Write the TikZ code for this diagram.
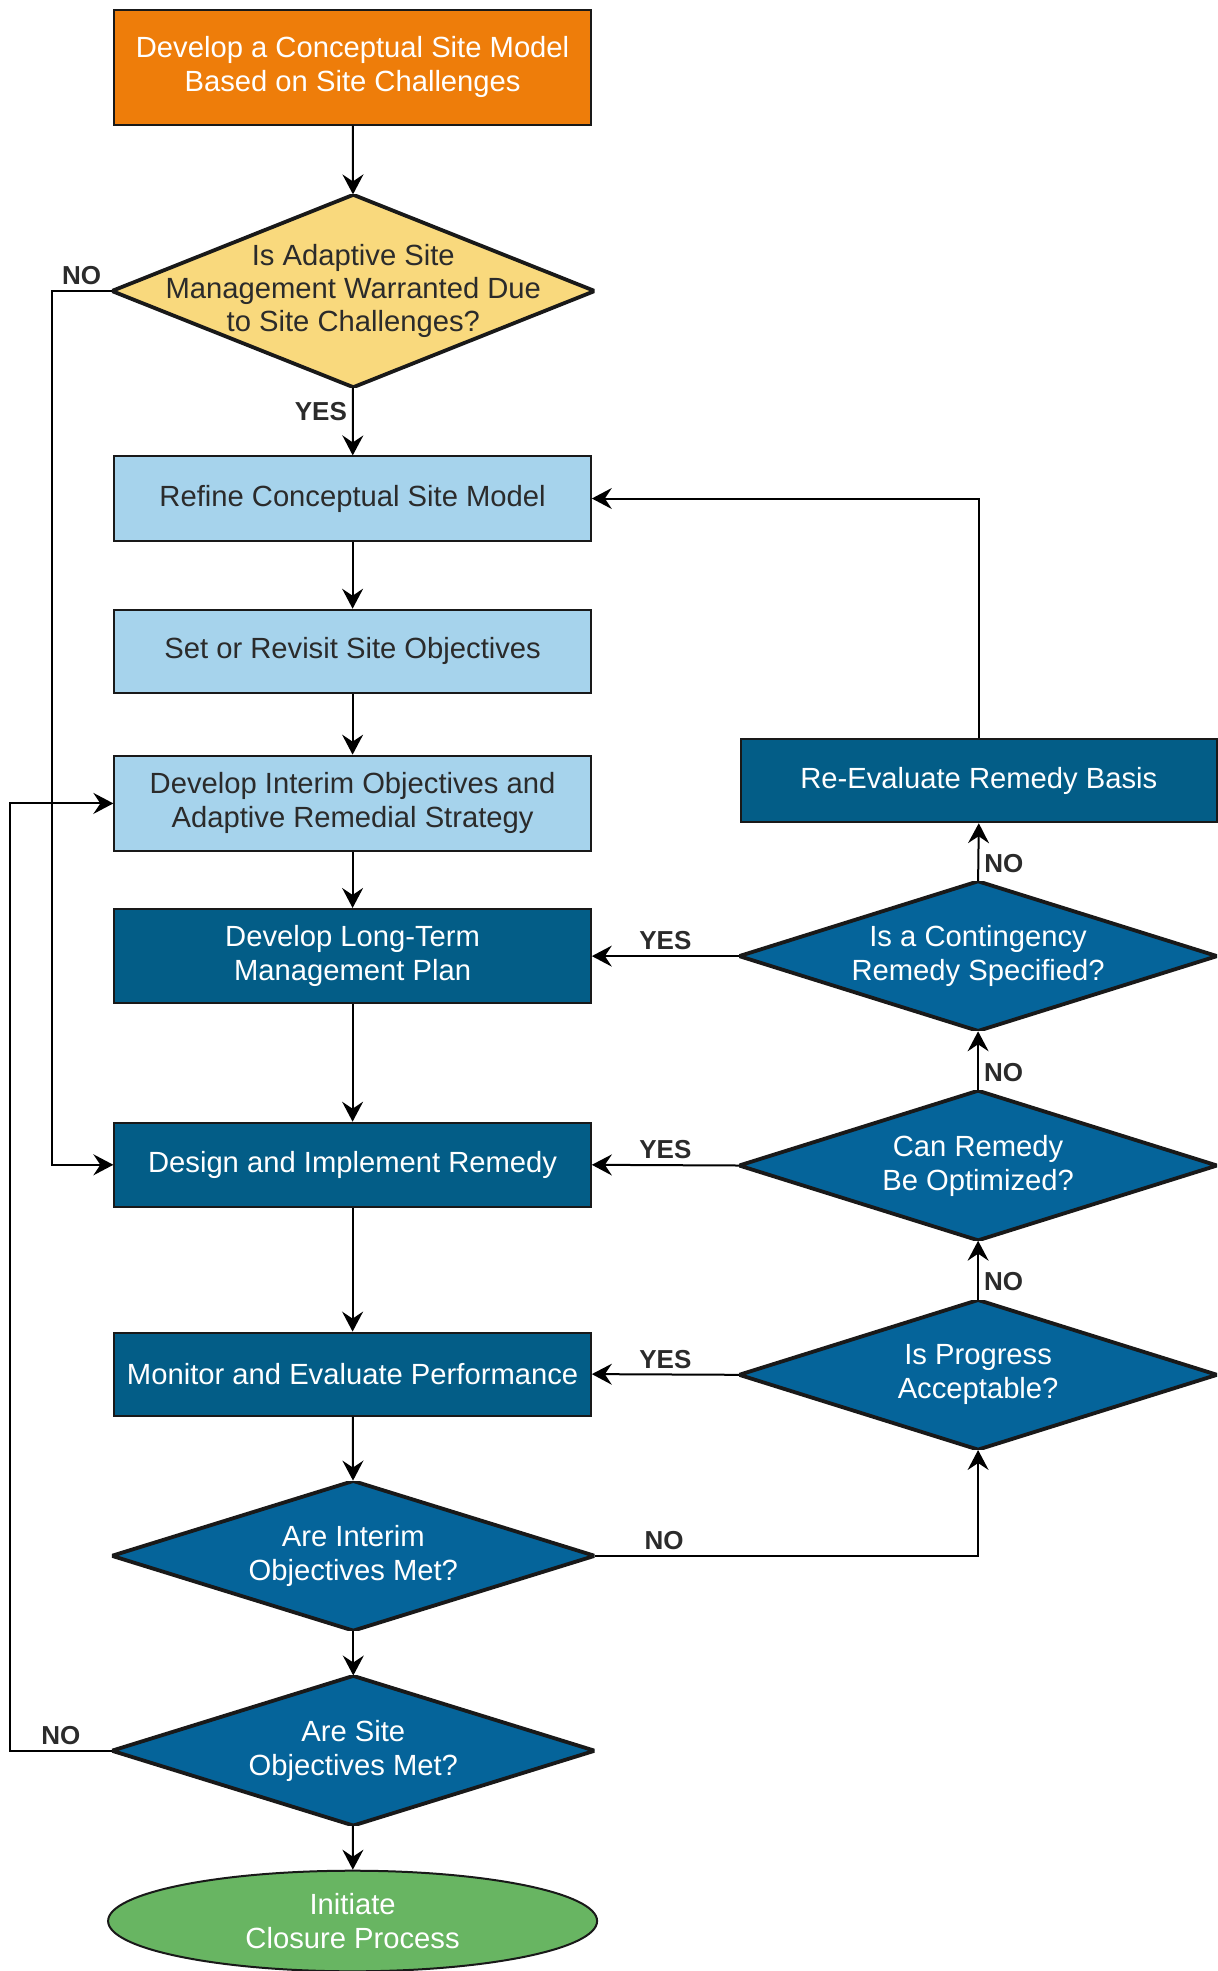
\documentclass[tikz,border=0pt]{standalone}
\usepackage{fontspec}
\setmainfont{Liberation Sans}
\usetikzlibrary{arrows.meta}
\usetikzlibrary{shapes.geometric}
\definecolor{csmorange}{HTML}{EE7D0A}
\definecolor{csmyellow}{HTML}{F9D97D}
\definecolor{lightblu}{HTML}{A6D3EC}
\definecolor{darkblu}{HTML}{035D87}
\definecolor{diablu}{HTML}{05649A}
\definecolor{closegreen}{HTML}{68B562}
\definecolor{inktext}{HTML}{2B2B2B}

\begin{document}
\begin{tikzpicture}[x=0.5pt, y=-0.5pt,
    every node/.style={font=\fontsize{14.6}{17}\selectfont, align=center},
    box/.style={rectangle, draw=black!90, line width=1pt, minimum width=238.25pt, minimum height=41.5pt, inner sep=0pt},
    pale/.style={box, fill=lightblu, text=inktext},
    deep/.style={box, fill=darkblu, text=white},
    decision/.style={rectangle, inner sep=0pt, minimum width=241.4pt, minimum height=74.8pt, text=white,
        path picture={\filldraw[fill=#1, draw=black!90, line width=1.9pt] (path picture bounding box.west) -- (path picture bounding box.north) -- (path picture bounding box.east) -- (path picture bounding box.south) -- cycle;}},
    decision/.default=diablu,
    arr/.style={-{Stealth[length=10pt, width=10.5pt, inset=3.5pt]}, line width=1pt},
    lbl/.style={font=\bfseries\fontsize{13}{15}\selectfont, text=inktext, inner sep=2.5pt}]
    \useasboundingbox (0,0) rectangle (1217,1971);
    \node[box, fill=csmorange, text=white, minimum height=57.2pt] (csm) at (352.6,67.3) {Develop a Conceptual Site Model\\Based on Site Challenges};
    \node[decision=csmyellow, text=inktext, minimum height=96.2pt, font=\fontsize{14.6}{16.4}\selectfont] (warrant) at (353.3,291) {Is Adaptive Site\\Management Warranted Due\\to Site Challenges?};
    \node[pale, minimum height=42.1pt] (refine) at (352.6,498.5) {Refine Conceptual Site Model};
    \node[pale] (revisit) at (352.6,651.2) {Set or Revisit Site Objectives};
    \node[pale, minimum height=47.75pt] (interim) at (352.6,803.4) {Develop Interim Objectives and\\Adaptive Remedial Strategy};
    \node[deep, minimum height=47.15pt] (ltmp) at (352.6,956.1) {Develop Long-Term\\Management Plan};
    \node[deep, minimum height=42.1pt] (design) at (352.6,1164.8) {Design and Implement Remedy};
    \node[deep] (monitor) at (352.6,1374.1) {Monitor and Evaluate Performance};
    \node[decision] (metint) at (353.3,1555.8) {Are Interim\\Objectives Met?};
    \node[decision] (metsite) at (353.3,1750.7) {Are Site\\Objectives Met?};
    \node[ellipse, draw=black!90, line width=1pt, fill=closegreen, text=white, minimum width=244.5pt, minimum height=50.3pt, inner sep=0pt] (closure) at (352.6,1921) {Initiate\\Closure Process};

    \node[deep] (reeval) at (978.8,780.7) {Re-Evaluate Remedy Basis};
    \node[decision, minimum width=238.9pt] (conting) at (978.1,956.1) {Is a Contingency\\Remedy Specified?};
    \node[decision, minimum width=238.9pt] (optim) at (978.1,1165.5) {Can Remedy\\Be Optimized?};
    \node[decision, minimum width=238.9pt] (progress) at (978.1,1374.8) {Is Progress\\Acceptable?};

    \coordinate (noleft) at (51.5,291);
    \coordinate (noouter) at (10,1750.7);
    \coordinate (backup) at (978.8,498.5);
    \coordinate (noright) at (978.1,1555.8);

    \foreach \a/\b in {csm/warrant, refine/revisit, revisit/interim, interim/ltmp, ltmp/design, design/monitor, monitor/metint, metint/metsite, metsite/closure}
        \draw[arr] (\a) -- (\b);
    \draw[arr] (warrant) -- node[lbl, left, pos=0.35] {YES} (refine);
    \draw[arr] (warrant.west) -- node[lbl, above] {NO} (noleft) |- (design.west);
    \draw[arr] (metsite.west) -- node[lbl, above] {NO} (noouter) |- (interim.west);
    \draw[arr] (metint.east) -- node[lbl, above, pos=0.18] {NO} (noright) -- (progress.south);
    \draw[arr] (reeval.north) -- (backup) -- (refine.east);
    \foreach \a/\b in {conting/ltmp, optim/design, progress/monitor}
        \draw[arr] (\a.west) -- node[lbl, above] {YES} (\b.east);
    \foreach \a/\b in {progress/optim, optim/conting, conting/reeval}
        \draw[arr] (\a.north) -- node[lbl, right, pos=0.3] {NO} (\b.south);
\end{tikzpicture}
\end{document}
